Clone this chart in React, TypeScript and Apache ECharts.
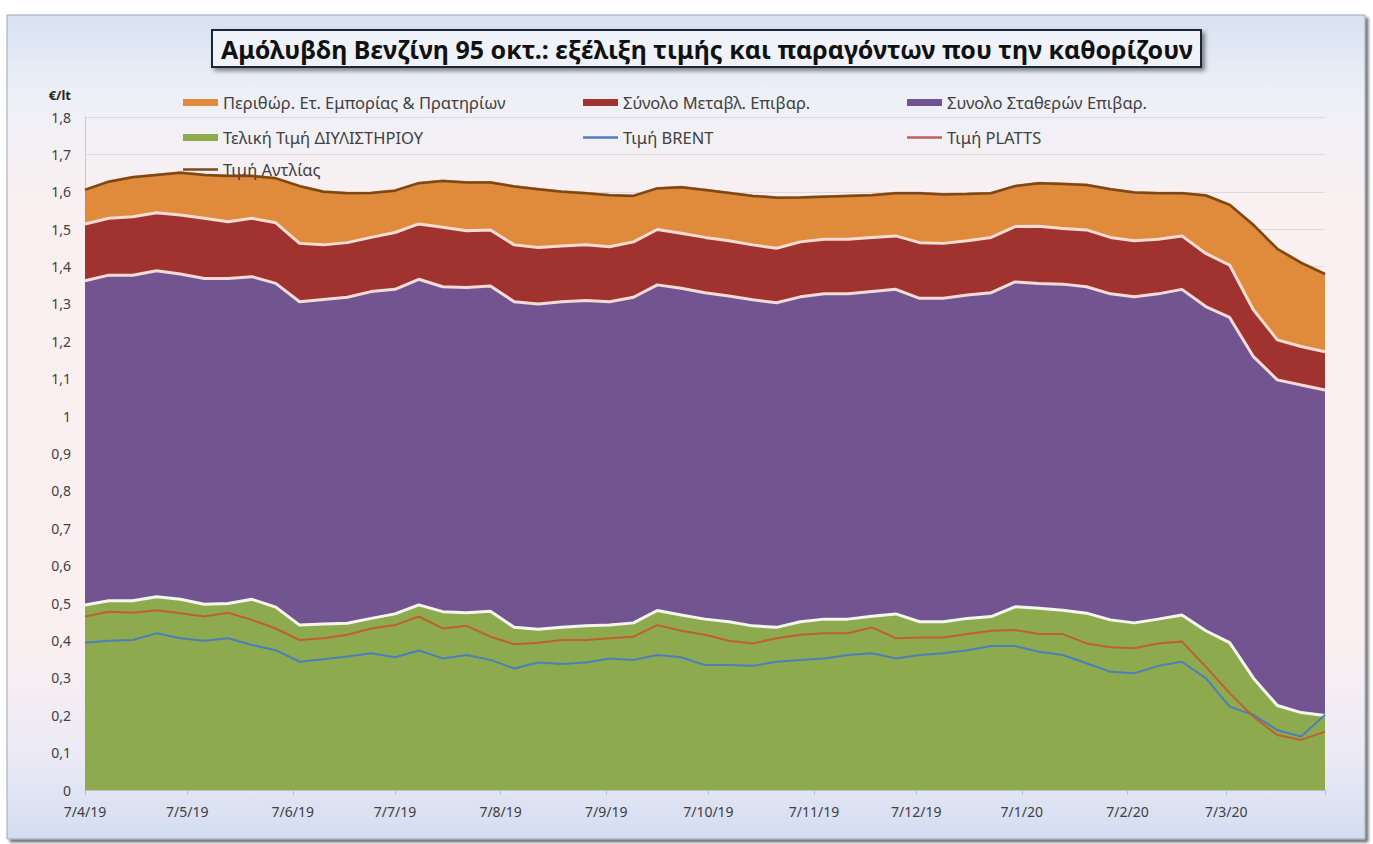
import React, { useEffect, useRef } from 'react';
import * as echarts from 'echarts';

// Weekly observation dates (ISO)
const dates = [
  '2019-04-07', '2019-04-14', '2019-04-21', '2019-04-28',
  '2019-05-05', '2019-05-12', '2019-05-19', '2019-05-26',
  '2019-06-02', '2019-06-09', '2019-06-16', '2019-06-23', '2019-06-30',
  '2019-07-07', '2019-07-14', '2019-07-21', '2019-07-28',
  '2019-08-04', '2019-08-11', '2019-08-18', '2019-08-25',
  '2019-09-01', '2019-09-08', '2019-09-15', '2019-09-22', '2019-09-29',
  '2019-10-06', '2019-10-13', '2019-10-20', '2019-10-27',
  '2019-11-03', '2019-11-10', '2019-11-17', '2019-11-24',
  '2019-12-01', '2019-12-08', '2019-12-15', '2019-12-22', '2019-12-29',
  '2020-01-05', '2020-01-12', '2020-01-19', '2020-01-26',
  '2020-02-02', '2020-02-09', '2020-02-16', '2020-02-23',
  '2020-03-01', '2020-03-08', '2020-03-15', '2020-03-22', '2020-03-29',
  '2020-04-05',
];

// x-axis tick labels (d/m/yy)
const xTickLabels = [
  '7/4/19', '7/5/19', '7/6/19', '7/7/19', '7/8/19', '7/9/19', '7/10/19',
  '7/11/19', '7/12/19', '7/1/20', '7/2/20', '7/3/20',
];

// Stacked components (€/lt)
const refineryPrice = [
  0.495, 0.506, 0.506, 0.517, 0.510, 0.497, 0.499, 0.510, 0.489, 0.441,
  0.444, 0.446, 0.459, 0.471, 0.495, 0.477, 0.474, 0.478, 0.435, 0.430,
  0.435, 0.439, 0.441, 0.447, 0.480, 0.468, 0.457, 0.450, 0.439, 0.435,
  0.450, 0.457, 0.457, 0.465, 0.471, 0.450, 0.450, 0.459, 0.464, 0.490,
  0.486, 0.481, 0.473, 0.455, 0.447, 0.457, 0.468, 0.426, 0.394, 0.299,
  0.226, 0.207, 0.199,
];
const fixedTaxes = [
  0.867, 0.871, 0.871, 0.872, 0.870, 0.871, 0.869, 0.863, 0.866, 0.865,
  0.868, 0.872, 0.874, 0.868, 0.871, 0.869, 0.870, 0.870, 0.871, 0.870,
  0.871, 0.870, 0.865, 0.871, 0.871, 0.874, 0.873, 0.871, 0.872, 0.868,
  0.869, 0.870, 0.870, 0.868, 0.868, 0.865, 0.865, 0.865, 0.866, 0.869,
  0.869, 0.872, 0.873, 0.872, 0.872, 0.870, 0.871, 0.867, 0.870, 0.860,
  0.871, 0.876, 0.871,
];
const variableTaxes = [
  0.152, 0.152, 0.156, 0.155, 0.158, 0.161, 0.152, 0.156, 0.162, 0.156,
  0.146, 0.146, 0.145, 0.152, 0.148, 0.159, 0.152, 0.150, 0.152, 0.151,
  0.149, 0.149, 0.147, 0.148, 0.148, 0.147, 0.148, 0.148, 0.147, 0.146,
  0.147, 0.146, 0.146, 0.145, 0.143, 0.149, 0.147, 0.145, 0.148, 0.148,
  0.153, 0.149, 0.152, 0.151, 0.150, 0.146, 0.143, 0.142, 0.140, 0.125,
  0.107, 0.103, 0.102,
];
const retailMargin = [
  0.091, 0.098, 0.106, 0.101, 0.113, 0.116, 0.122, 0.113, 0.119, 0.153,
  0.142, 0.132, 0.119, 0.112, 0.109, 0.124, 0.129, 0.127, 0.156, 0.156,
  0.145, 0.138, 0.138, 0.123, 0.110, 0.123, 0.127, 0.128, 0.131, 0.135,
  0.119, 0.114, 0.116, 0.113, 0.114, 0.132, 0.131, 0.125, 0.118, 0.108,
  0.115, 0.119, 0.120, 0.129, 0.129, 0.123, 0.114, 0.155, 0.161, 0.227,
  0.243, 0.224, 0.208,
];

// Line series (€/lt)
const pumpPrice = [
  1.605, 1.627, 1.639, 1.645, 1.651, 1.645, 1.642, 1.642, 1.636, 1.615,
  1.600, 1.596, 1.597, 1.603, 1.623, 1.629, 1.625, 1.625, 1.614, 1.607,
  1.600, 1.596, 1.591, 1.589, 1.609, 1.612, 1.605, 1.597, 1.589, 1.584,
  1.585, 1.587, 1.589, 1.591, 1.596, 1.596, 1.593, 1.594, 1.596, 1.615,
  1.623, 1.621, 1.618, 1.607, 1.598, 1.596, 1.596, 1.590, 1.565, 1.511,
  1.447, 1.410, 1.380,
];
const brentPrice = [
  0.394, 0.399, 0.401, 0.419, 0.406, 0.399, 0.406, 0.388, 0.374, 0.343,
  0.350, 0.357, 0.366, 0.355, 0.373, 0.352, 0.361, 0.348, 0.325, 0.341,
  0.337, 0.341, 0.352, 0.348, 0.361, 0.355, 0.334, 0.334, 0.332, 0.343,
  0.348, 0.352, 0.361, 0.366, 0.352, 0.361, 0.366, 0.374, 0.385, 0.385,
  0.370, 0.361, 0.339, 0.316, 0.312, 0.332, 0.343, 0.299, 0.223, 0.201,
  0.160, 0.143, 0.201,
];
const plattsPrice = [
  0.464, 0.477, 0.474, 0.481, 0.473, 0.464, 0.474, 0.455, 0.432, 0.401,
  0.406, 0.415, 0.432, 0.441, 0.464, 0.432, 0.439, 0.410, 0.390, 0.394,
  0.401, 0.401, 0.406, 0.410, 0.441, 0.426, 0.415, 0.399, 0.392, 0.406,
  0.415, 0.419, 0.419, 0.435, 0.406, 0.408, 0.408, 0.417, 0.426, 0.428,
  0.417, 0.417, 0.392, 0.382, 0.379, 0.392, 0.397, 0.330, 0.259, 0.196,
  0.147, 0.134, 0.156,
];

const NAMES = {
  margin: 'Περιθώρ. Ετ. Εμπορίας & Πρατηρίων',
  variable: 'Σύνολο Μεταβλ. Επιβαρ.',
  fixed: 'Συνολο Σταθερών Επιβαρ.',
  refinery: 'Τελική Τιμή ΔΙΥΛΙΣΤΗΡΙΟΥ',
  brent: 'Τιμή BRENT',
  platts: 'Τιμή PLATTS',
  pump: 'Τιμή Αντλίας',
};

const COLORS = {
  margin: '#e08a3c',
  variable: '#a0332f',
  fixed: '#725590',
  refinery: '#8daa4f',
  brent: '#4a7fbb',
  platts: '#c0602e',
  pump: '#7a4819',
};

const FONT = "'Noto Sans', 'DejaVu Sans', sans-serif";

function isoTs(s: string) {
  const [y, m, d] = s.split('-').map(Number);
  return Date.UTC(y, m - 1, d);
}
function labelTs(s: string) {
  const [d, m, yy] = s.split('/').map(Number);
  return Date.UTC(2000 + yy, m - 1, d);
}

export default function App() {
  const ref = useRef<HTMLDivElement>(null);

  useEffect(() => {
    if (!ref.current) return;
    const chart = echarts.init(ref.current, undefined, { renderer: 'svg' });

    const xs = dates.map(isoTs);
    const pairs = (arr: number[]) => arr.map((v, i) => [xs[i], v]);
    const tickVals = xTickLabels.map(labelTs);
    const labelMap: Record<number, string> = {};
    xTickLabels.forEach((l, i) => (labelMap[tickVals[i]] = l));
    const xMin = xs[0];
    const xMax = xs[xs.length - 1];

    const legendBase = {
      orient: 'horizontal',
      padding: 0,
      itemGap: 0,
      itemWidth: 35,
      selectedMode: false,
      textStyle: { color: '#404040', fontSize: 16.5, fontFamily: FONT },
    };
    const mkLegend = (name: string, color: string, left: number, top: number, line: boolean) => ({
      ...legendBase,
      left,
      top,
      itemHeight: line ? 2.5 : 7,
      data: [{ name, icon: 'rect', itemStyle: { color, borderWidth: 0 } }],
    });

    const areaSeries = (name: string, data: number[], color: string, lineColor: string, z: number) => ({
      name,
      type: 'line',
      stack: 'total',
      xAxisIndex: 0,
      data: pairs(data),
      symbol: 'none',
      showSymbol: false,
      z,
      itemStyle: { color },
      lineStyle: { color: lineColor, width: 3 },
      areaStyle: { color, opacity: 1 },
    });

    const lineSeries = (name: string, data: number[], color: string, width: number) => ({
      name,
      type: 'line',
      xAxisIndex: 0,
      data: pairs(data),
      symbol: 'none',
      showSymbol: false,
      z: 10,
      itemStyle: { color },
      lineStyle: { color, width },
    });

    const bg = new echarts.graphic.LinearGradient(0, 0, 0, 1, [
      { offset: 0, color: '#d8e2f1' },
      { offset: 0.1, color: '#eef0f7' },
      { offset: 0.25, color: '#fbf0f1' },
      { offset: 0.75, color: '#fbf0f1' },
      { offset: 0.9, color: '#ebeaf5' },
      { offset: 1, color: '#d3ddf0' },
    ]);

    chart.setOption({
      animation: false,
      backgroundColor: '#ffffff',
      textStyle: { fontFamily: FONT },
      graphic: [
        {
          type: 'rect',
          z: -10,
          silent: true,
          shape: { x: 7, y: 15, width: 1358, height: 824 },
          style: {
            fill: bg,
            stroke: '#9aa6bb',
            lineWidth: 1,
            shadowBlur: 3,
            shadowColor: 'rgba(0,0,0,0.55)',
            shadowOffsetX: 3,
            shadowOffsetY: 3,
          },
        },
      ],
      title: {
        text: 'Αμόλυβδη Βενζίνη 95 οκτ.: εξέλιξη τιμής και παραγόντων που την καθορίζουν',
        left: 212,
        top: 30,
        padding: [6, 9, 6, 9],
        backgroundColor: '#eff2f9',
        borderColor: '#1e2838',
        borderWidth: 2,
        shadowBlur: 4,
        shadowColor: 'rgba(0,0,0,0.45)',
        shadowOffsetX: 3,
        shadowOffsetY: 3,
        textStyle: { fontSize: 25, fontWeight: 'bold', color: '#111111', fontFamily: FONT },
      },
      legend: [
        mkLegend(NAMES.margin, COLORS.margin, 183, 94, false),
        mkLegend(NAMES.variable, COLORS.variable, 583, 94, false),
        mkLegend(NAMES.fixed, COLORS.fixed, 907, 94, false),
        mkLegend(NAMES.refinery, COLORS.refinery, 183, 129, false),
        mkLegend(NAMES.brent, COLORS.brent, 583, 129, true),
        mkLegend(NAMES.platts, '#c0605a', 907, 129, true),
        mkLegend(NAMES.pump, COLORS.pump, 183, 161, true),
      ],
      grid: { left: 85, right: 48, top: 117, bottom: 54, containLabel: false },
      xAxis: [
        {
          type: 'time',
          min: xMin,
          max: xMax,
          axisLine: { show: true, lineStyle: { color: '#bfbfbf', width: 1 } },
          axisTick: { show: false },
          axisLabel: { show: false },
          splitLine: { show: false },
        },
        {
          type: 'value',
          position: 'bottom',
          min: xMin,
          max: xMax,
          axisLine: { show: false },
          axisTick: {
            show: true,
            length: 5,
            customValues: [...tickVals, xMax],
            lineStyle: { color: '#bfbfbf' },
          },
          axisLabel: {
            customValues: tickVals,
            formatter: (v: number) => labelMap[v] ?? '',
            color: '#404040',
            fontSize: 14,
            fontFamily: FONT,
            margin: 14,
          },
          splitLine: { show: false },
        },
      ],
      yAxis: {
        type: 'value',
        min: 0,
        max: 1.8,
        interval: 0.1,
        name: '€/lt',
        nameLocation: 'end',
        nameGap: 16,
        nameTextStyle: {
          align: 'right',
          padding: [0, 14, 0, 0],
          fontWeight: 'bold',
          fontSize: 13,
          color: '#262626',
          fontFamily: FONT,
        },
        axisLine: { show: true, lineStyle: { color: '#c8c8c8' } },
        axisTick: { show: false },
        axisLabel: {
          formatter: (v: number) => String(Number(v.toFixed(1))).replace('.', ','),
          color: '#404040',
          fontSize: 14,
          fontFamily: FONT,
          margin: 14,
        },
        splitLine: { show: true, lineStyle: { color: '#dcdcdc', width: 1 } },
      },
      series: [
        areaSeries(NAMES.refinery, refineryPrice, COLORS.refinery, '#f4f6ee', 6),
        areaSeries(NAMES.fixed, fixedTaxes, COLORS.fixed, '#f3dcd8', 5),
        areaSeries(NAMES.variable, variableTaxes, COLORS.variable, '#f6dcd2', 4),
        areaSeries(NAMES.margin, retailMargin, COLORS.margin, COLORS.margin, 3),
        lineSeries(NAMES.pump, pumpPrice, COLORS.pump, 2.5),
        lineSeries(NAMES.brent, brentPrice, COLORS.brent, 2),
        lineSeries(NAMES.platts, plattsPrice, COLORS.platts, 2),
      ],
    });

    return () => chart.dispose();
  }, []);

  return (
    <div
      ref={ref}
      style={{ position: 'fixed', left: 0, top: 0, width: 1373, height: 844 }}
    />
  );
}
